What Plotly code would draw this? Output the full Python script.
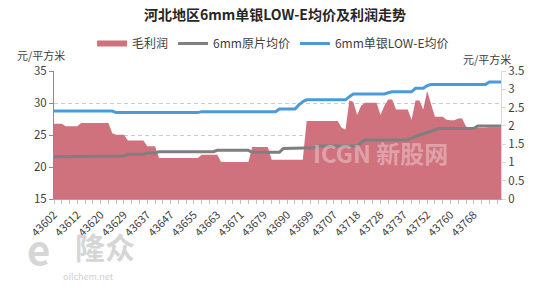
import plotly.graph_objects as go

# Categories (Excel serial dates, trading days)
dates = [
    43602, 43605, 43606, 43607, 43608, 43609,
    43612, 43613, 43614, 43615, 43616, 43619,
    43620, 43621, 43622, 43626, 43627, 43628,
    43629, 43630, 43633, 43634, 43635, 43636,
    43637, 43640, 43641, 43642, 43643, 43644,
    43647, 43648, 43649, 43650, 43651, 43654,
    43655, 43656, 43657, 43658, 43661, 43662,
    43663, 43664, 43665, 43668, 43669, 43670,
    43671, 43672, 43675, 43676, 43677, 43678,
    43679, 43682, 43683, 43684, 43685, 43689,
    43690, 43691, 43692, 43696, 43697, 43698,
    43699, 43700, 43703, 43704, 43705, 43706,
    43707, 43710, 43711, 43712, 43713, 43717,
    43718, 43719, 43720, 43725, 43726, 43727,
    43728, 43731, 43732, 43733, 43734, 43735,
    43737, 43738, 43746, 43747, 43748, 43749,
    43752, 43753, 43754, 43755, 43756, 43759,
    43760, 43761, 43762, 43763, 43766, 43767,
    43768, 43769, 43770, 43773, 43774, 43775,
    43776, 43777,
]
tick_labels = ["43602", "43612", "43620", "43629", "43637", "43647", "43655",
               "43663", "43671", "43679", "43690", "43699", "43707", "43718",
               "43728", "43737", "43752", "43760", "43768"]

# 毛利润 (right axis, 元/平方米)
profit = [
    2.06, 2.06, 2.06, 1.99, 1.99, 1.99,
    1.99, 2.08, 2.08, 2.08, 2.08, 2.08,
    2.08, 2.08, 2.08, 1.80, 1.76, 1.76,
    1.76, 1.60, 1.60, 1.60, 1.60, 1.60,
    1.44, 1.44, 1.44, 1.12, 1.12, 1.12,
    1.12, 1.12, 1.12, 1.12, 1.12, 1.12,
    1.12, 1.12, 1.21, 1.21, 1.21, 1.21,
    1.21, 1.01, 1.01, 1.01, 1.01, 1.01,
    1.01, 1.01, 1.01, 1.42, 1.42, 1.42,
    1.42, 1.42, 1.07, 1.07, 1.07, 1.07,
    1.07, 1.07, 1.07, 1.07, 1.07, 2.13,
    2.13, 2.13, 2.13, 2.13, 2.13, 2.13,
    2.13, 2.13, 1.95, 1.90, 2.70, 2.65,
    2.30, 2.55, 2.63, 2.63, 2.63, 2.63,
    2.30, 2.55, 2.72, 2.72, 2.45, 2.45,
    2.45, 2.45, 2.17, 2.69, 2.69, 2.45,
    2.96, 2.60, 2.25, 2.25, 2.25, 2.17,
    2.15, 2.15, 2.20, 2.20, 1.98, 1.95,
    1.95, 1.95, 1.95, 1.95, 1.96, 1.96,
    1.96, 1.96,
]

# 6mm原片均价 (left axis)
raw_price = [
    21.6, 21.6, 21.6, 21.6, 21.6, 21.6,
    21.6, 21.6, 21.6, 21.6, 21.6, 21.6,
    21.7, 21.7, 21.7, 21.7, 21.7, 21.7,
    21.7, 22.0, 22.0, 22.0, 22.0, 22.0,
    22.2, 22.2, 22.2, 22.4, 22.4, 22.4,
    22.4, 22.4, 22.4, 22.4, 22.4, 22.4,
    22.4, 22.4, 22.4, 22.4, 22.4, 22.4,
    22.6, 22.6, 22.6, 22.6, 22.6, 22.6,
    22.6, 22.6, 22.6, 22.3, 22.3, 22.3,
    22.3, 22.3, 22.3, 22.3, 22.3, 22.9,
    22.9, 22.9, 22.9, 22.9, 23.0, 23.0,
    23.0, 23.0, 23.3, 23.3, 23.3, 23.3,
    23.3, 23.3, 23.3, 23.3, 23.3, 23.3,
    23.3, 23.8, 24.2, 24.2, 24.2, 24.2,
    24.2, 24.2, 24.2, 24.2, 24.2, 24.2,
    24.2, 24.2, 24.5, 24.8, 25.0, 25.2,
    25.4, 25.6, 25.8, 26.0, 26.0, 26.0,
    26.0, 26.0, 26.0, 26.0, 26.0, 26.0,
    26.0, 26.4, 26.4, 26.4, 26.4, 26.4,
    26.4, 26.4,
]

# 6mm单银LOW-E均价 (left axis)
lowe_price = [
    28.75, 28.75, 28.75, 28.75, 28.75, 28.75,
    28.75, 28.75, 28.75, 28.75, 28.75, 28.75,
    28.75, 28.75, 28.75, 28.75, 28.5, 28.5,
    28.5, 28.5, 28.5, 28.5, 28.5, 28.5,
    28.5, 28.5, 28.5, 28.5, 28.5, 28.5,
    28.5, 28.5, 28.5, 28.5, 28.5, 28.5,
    28.5, 28.5, 28.65, 28.65, 28.65, 28.65,
    28.65, 28.65, 28.65, 28.65, 28.65, 28.65,
    28.65, 28.65, 28.65, 28.65, 28.65, 28.65,
    28.65, 28.65, 28.65, 28.65, 29.05, 29.05,
    29.05, 29.05, 29.05, 29.7, 30.2, 30.5,
    30.5, 30.5, 30.5, 30.5, 30.5, 30.5,
    30.5, 30.5, 30.5, 30.5, 31.0, 31.4,
    31.4, 31.4, 31.4, 31.4, 31.4, 31.4,
    31.4, 31.4, 31.6, 31.75, 31.75, 31.75,
    31.75, 31.75, 31.75, 32.3, 32.3, 32.3,
    32.7, 32.9, 32.9, 32.9, 32.9, 32.9,
    32.9, 32.9, 32.9, 32.9, 32.9, 32.9,
    32.9, 32.9, 32.9, 32.9, 33.3, 33.3,
    33.3, 33.3,
]

cats = [str(d) for d in dates]
FONT = "Noto Sans CJK SC"
TXT = "#404040"

fig = go.Figure()
fig.add_trace(go.Scatter(
    x=cats, y=profit, name="毛利润", mode="none", fill="tozeroy",
    fillcolor="#d0727d", yaxis="y"))
fig.add_trace(go.Scatter(
    x=cats, y=raw_price, name="6mm原片均价", mode="lines",
    line=dict(color="#7f7f7f", width=3), yaxis="y2"))
fig.add_trace(go.Scatter(
    x=cats, y=lowe_price, name="6mm单银LOW-E均价", mode="lines",
    line=dict(color="#4b9ad9", width=3), yaxis="y2"))

tv = cats[::2]
tt = [c if c in tick_labels else "" for c in tv]

fig.update_layout(
    width=550, height=296,
    margin=dict(l=54, r=49, t=71, b=97),
    paper_bgcolor="white", plot_bgcolor="white",
    font=dict(family=FONT, size=11, color=TXT),
    title=dict(text="<b>河北地区6mm单银LOW-E均价及利润走势</b>",
               x=0.5, xanchor="center", y=1 - 15 / 296, yanchor="middle",
               font=dict(family=FONT, size=14, color="#262626")),
    showlegend=True,
    legend=dict(orientation="h", x=0.49, xanchor="center", y=1.215, yanchor="middle",
                font=dict(family=FONT, size=12, color=TXT),
                bgcolor="rgba(0,0,0,0)", itemwidth=30, tracegroupgap=0),
    xaxis=dict(type="category", range=[0, len(cats) - 1],
               tickmode="array", tickvals=tv, ticktext=tt,
               tickangle=-45, ticks="outside", ticklen=4, tickcolor="#bfbfbf",
               showline=True, linecolor="#a6a6a6", linewidth=1,
               showgrid=False, tickfont=dict(size=11, color=TXT)),
    yaxis=dict(side="right", range=[0, 3.5], dtick=0.5,
               showgrid=False, zeroline=False,
               showline=True, linecolor="#d9d9d9", ticks="outside", ticklen=4,
               tickcolor="#d9d9d9", tickfont=dict(size=11.5, color=TXT)),
    yaxis2=dict(side="left", overlaying="y", range=[15, 35], dtick=5,
                showgrid=True, gridcolor="#c9ccd4", griddash="4px,3px", gridwidth=1,
                zeroline=False, showline=True, linecolor="#8c8c8c",
                ticks="outside", ticklen=4, tickcolor="#8c8c8c",
                tickfont=dict(size=11.5, color=TXT)),
)

annots = [
    dict(text="元/平方米", x=(41 - 54) / 447, y=(199 - 55) / 128,
         font=dict(size=11, color=TXT)),
    dict(text="元/平方米", x=(487 - 54) / 447, y=(199 - 59) / 128,
         font=dict(size=11, color=TXT)),
    dict(text="<b>ICGN 新股网</b>", x=(380 - 54) / 447, y=(199 - 152) / 128,
         font=dict(size=24, color="rgba(255,255,255,0.35)")),
    dict(text="<b>隆众</b>", x=(105 - 54) / 447, y=(199 - 246) / 128,
         font=dict(size=30, color="#d6d6d6")),
    dict(text="<b>e</b>", x=(38 - 54) / 447, y=(199 - 248) / 128,
         font=dict(size=40, color="#d6d6d6")),
    dict(text="oilchem.net", x=(88 - 54) / 447, y=(199 - 276) / 128,
         font=dict(size=9, color="#d0d0d0")),
]
for a in annots:
    a.update(xref="paper", yref="paper", showarrow=False,
             xanchor="center", yanchor="middle")
fig.update_layout(annotations=annots)

fig.write_html("out.html")
